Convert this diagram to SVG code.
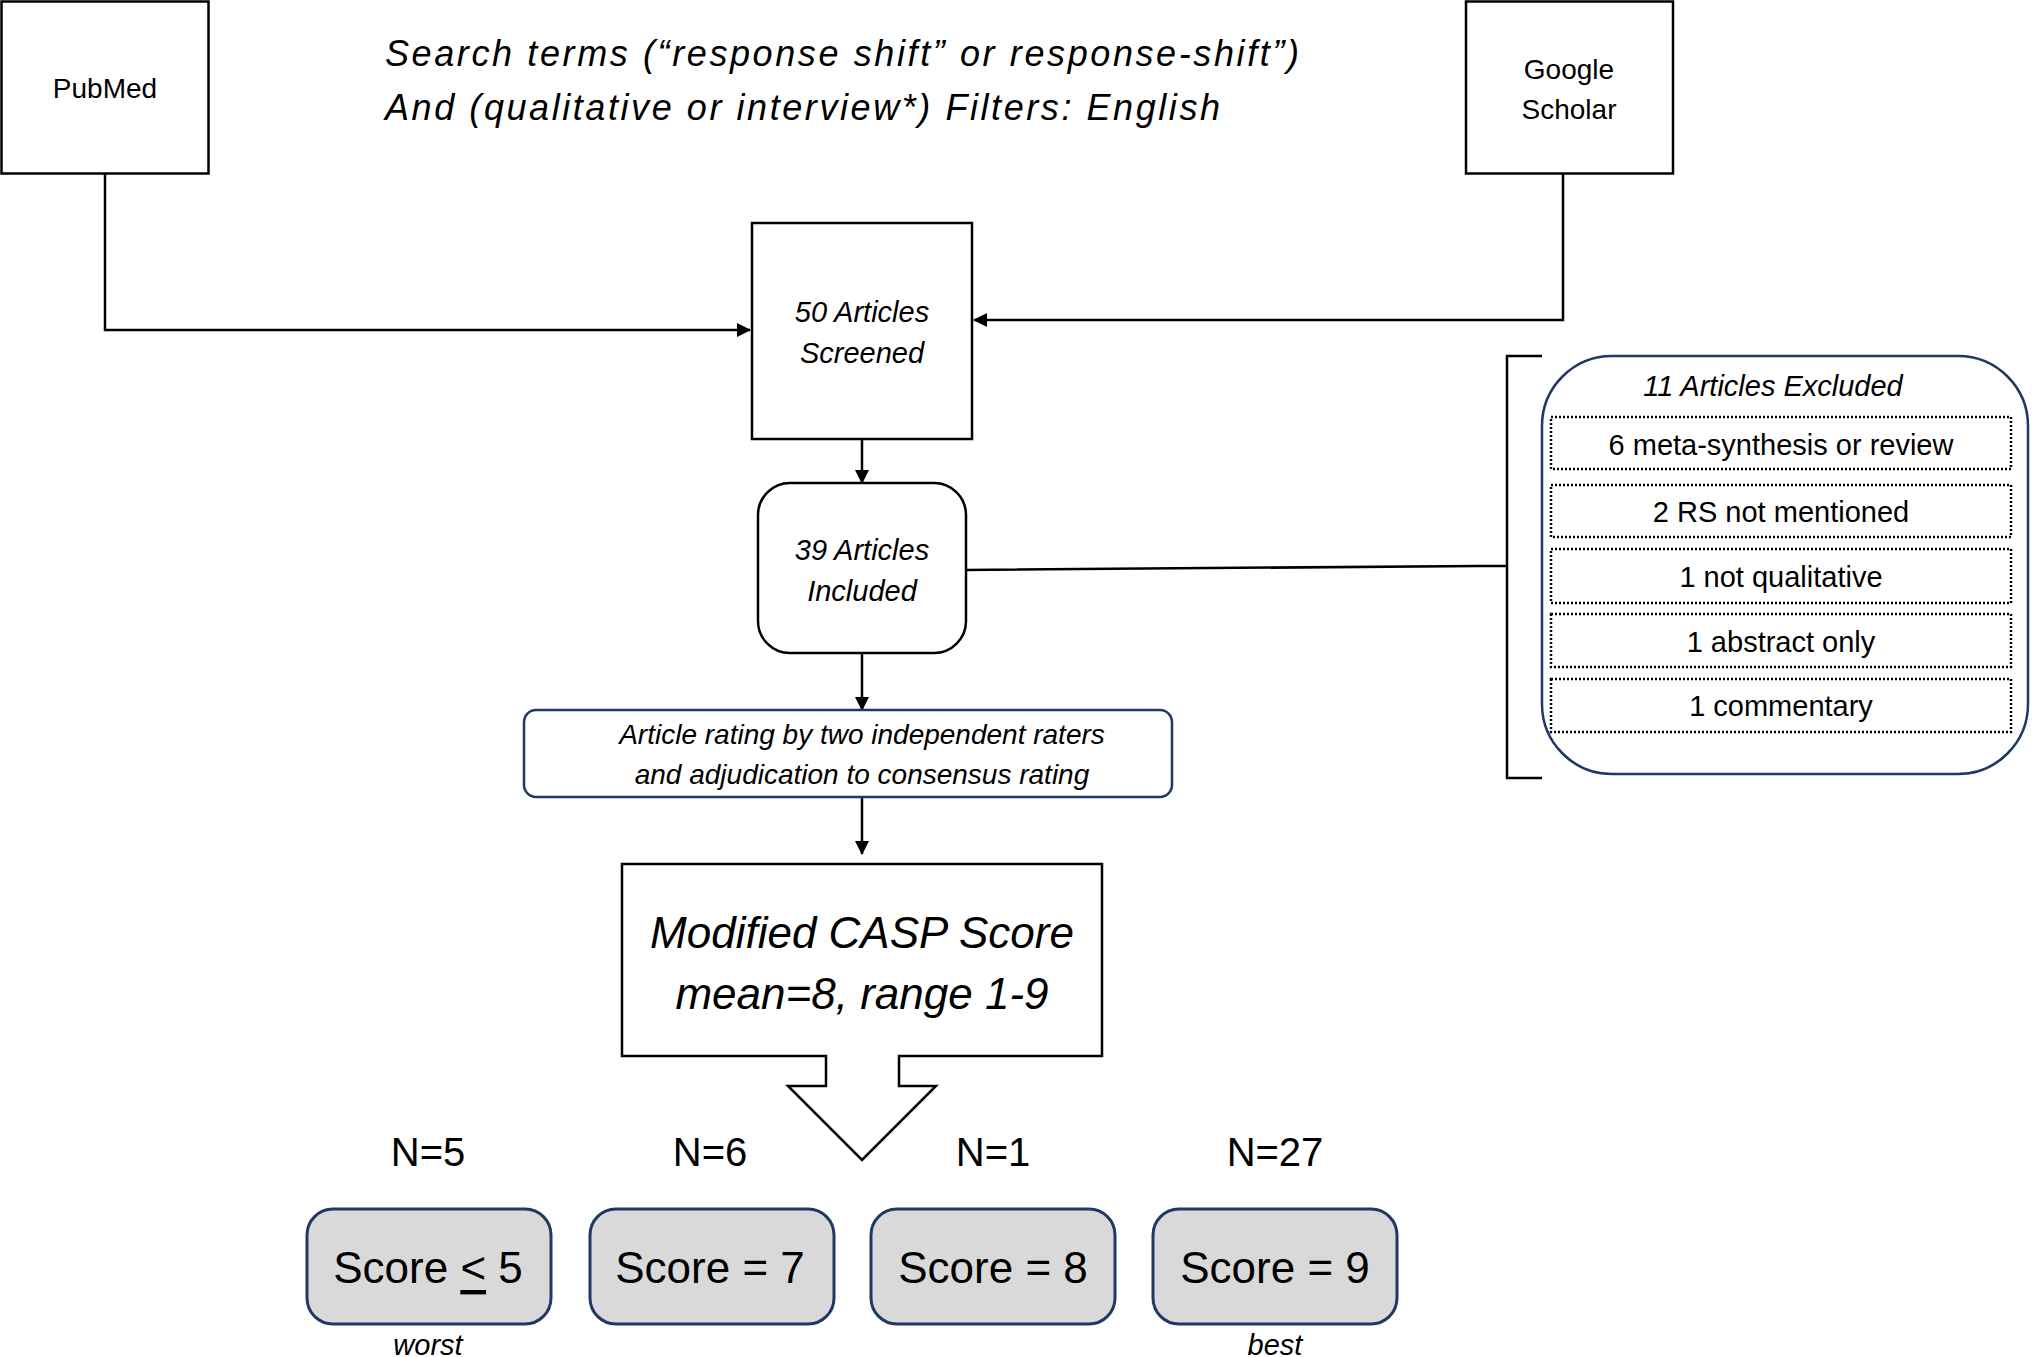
<svg xmlns="http://www.w3.org/2000/svg" width="2032" height="1357" viewBox="0 0 2032 1357">
<style>
text{font-family:"Liberation Sans",Arial,sans-serif;fill:#000;text-anchor:middle;dominant-baseline:central}
.it{font-style:italic}
.box{fill:#fff;stroke:#000;stroke-width:2.5}
.nv{fill:#fff;stroke:#1f3864;stroke-width:2.5}
.dot{fill:none;stroke:#000;stroke-width:2.5;stroke-dasharray:2 2}
.sc{fill:#d9d9d9;stroke:#1f3864;stroke-width:3}
.ln{fill:none;stroke:#000;stroke-width:2.5}
</style>
<defs><marker id="ah" markerWidth="10" markerHeight="10" refX="9" refY="5" orient="auto" markerUnits="userSpaceOnUse"><path d="M0,0 L10,5 L0,10 Z" fill="#000"/></marker>
<marker id="ah2" markerWidth="14" markerHeight="14" refX="13" refY="7" orient="auto" markerUnits="userSpaceOnUse"><path d="M0,0 L14,7 L0,14 Z" fill="#000"/></marker></defs>
<rect width="2032" height="1357" fill="#fff"/>
<text class="it" x="385" y="53" font-size="36" style="text-anchor:start" textLength="914">Search terms (“response shift” or response-shift”)</text>
<text class="it" x="385" y="107" font-size="36" style="text-anchor:start" textLength="835">And (qualitative or interview*) Filters: English</text>
<g id="connectors">
<path class="ln" d="M105,174 V330 H750" marker-end="url(#ah2)"/>
<path class="ln" d="M1563,174 V320 H974" marker-end="url(#ah2)"/>
<path class="ln" d="M862,439 V483" marker-end="url(#ah2)"/>
<path class="ln" d="M966,570 L1478,566 H1507"/>
<path class="ln" d="M1542,356 H1507 V778 H1542" stroke-width="4"/>
<path class="ln" d="M862,653 V710" marker-end="url(#ah2)"/>
<path class="ln" d="M862,797 V854" marker-end="url(#ah2)"/>
</g>
<g id="pubmed"><rect class="box" x="1.5" y="1.5" width="207" height="172"/><text x="105" y="88" font-size="28">PubMed</text></g>
<g id="scholar"><rect class="box" x="1466" y="1.5" width="207" height="172"/><text x="1569" y="69" font-size="28">Google</text><text x="1569" y="109" font-size="28">Scholar</text></g>
<g id="screened"><rect class="box" x="752" y="223" width="220" height="216"/><text class="it" x="862" y="312" font-size="29">50 Articles</text><text class="it" x="862" y="353" font-size="29">Screened</text></g>
<g id="included"><rect class="box" x="758" y="483" width="208" height="170" rx="32"/><text class="it" x="862" y="550" font-size="29">39 Articles</text><text class="it" x="862" y="591" font-size="29">Included</text></g>
<g id="excluded"><rect class="nv" x="1542" y="356" width="486" height="418" rx="70"/>
<text class="it" x="1773" y="386" font-size="29">11 Articles Excluded</text>
<rect class="dot" x="1551" y="417" width="460" height="52"/><text x="1781" y="445" font-size="29">6 meta-synthesis or review</text>
<rect class="dot" x="1551" y="485" width="460" height="52"/><text x="1781" y="512" font-size="29">2 RS not mentioned</text>
<rect class="dot" x="1551" y="549" width="460" height="54"/><text x="1781" y="577" font-size="29">1 not qualitative</text>
<rect class="dot" x="1551" y="614" width="460" height="53"/><text x="1781" y="642" font-size="29">1 abstract only</text>
<rect class="dot" x="1551" y="679" width="460" height="53"/><text x="1781" y="706" font-size="29">1 commentary</text></g>
<g id="rating"><rect class="nv" x="524" y="710" width="648" height="87" rx="12"/><text class="it" x="862" y="734" font-size="28">Article rating by two independent raters</text><text class="it" x="862" y="774" font-size="28">and adjudication to consensus rating</text></g>
<g id="casp"><path class="box" d="M622,864 H1102 V1056 H899 V1086 H936 L862,1160 L788,1086 H826 V1056 H622 Z"/>
<text class="it" x="862" y="932" font-size="44">Modified CASP Score</text><text class="it" x="862" y="993" font-size="44">mean=8, range 1-9</text></g>
<g id="s5"><text x="428" y="1152" font-size="40">N=5</text><rect class="sc" x="307" y="1209" width="244" height="115" rx="26"/><text x="428" y="1267" font-size="44">Score <tspan text-decoration="underline">&lt;</tspan> 5</text><text class="it" x="428" y="1345" font-size="29">worst</text></g>
<g id="s7"><text x="710" y="1152" font-size="40">N=6</text><rect class="sc" x="590" y="1209" width="244" height="115" rx="26"/><text x="710" y="1267" font-size="44">Score = 7</text></g>
<g id="s8"><text x="993" y="1152" font-size="40">N=1</text><rect class="sc" x="871" y="1209" width="244" height="115" rx="26"/><text x="993" y="1267" font-size="44">Score = 8</text></g>
<g id="s9"><text x="1275" y="1152" font-size="40">N=27</text><rect class="sc" x="1153" y="1209" width="244" height="115" rx="26"/><text x="1275" y="1267" font-size="44">Score = 9</text><text class="it" x="1275" y="1345" font-size="29">best</text></g>
</svg>
